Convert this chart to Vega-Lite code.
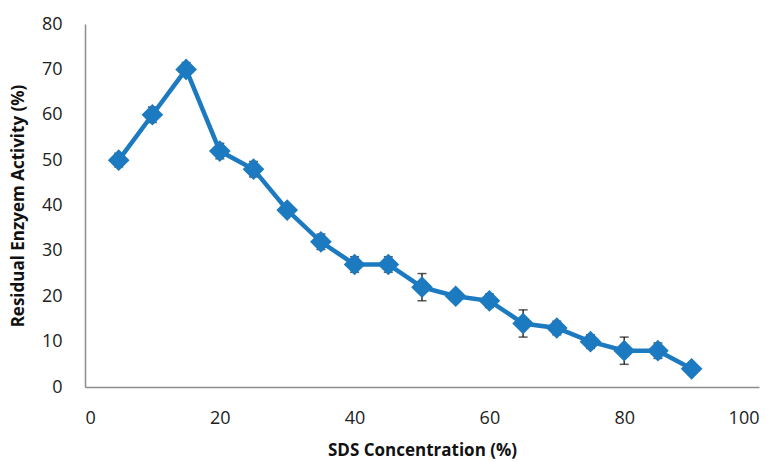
{
  "$schema": "https://vega.github.io/schema/vega-lite/v6.json",
  "autosize": "none",
  "width": 674,
  "height": 363,
  "padding": {"left": 85, "top": 24, "right": 18, "bottom": 75},
  "background": "white",
  "config": {
    "view": {"stroke": null},
    "font": "Open Sans",
    "axis": {
      "grid": false,
      "ticks": false,
      "domainColor": "#8c8c8c",
      "domainWidth": 1.5,
      "labelFont": "Open Sans",
      "labelFontSize": 18,
      "labelColor": "#222",
      "titleFont": "Open Sans",
      "titleFontSize": 17,
      "titleFontWeight": "bold",
      "titleColor": "#111"
    }
  },
  "data": {
    "values": [
      {"conc": 5, "activity": 50, "lo": 48.5, "hi": 51.5},
      {"conc": 10, "activity": 60, "lo": 58.3, "hi": 61.7},
      {"conc": 15, "activity": 70, "lo": 68.5, "hi": 71.5},
      {"conc": 20, "activity": 52, "lo": 50.3, "hi": 53.7},
      {"conc": 25, "activity": 48, "lo": 46.3, "hi": 49.7},
      {"conc": 30, "activity": 39, "lo": 39, "hi": 39},
      {"conc": 35, "activity": 32, "lo": 30.3, "hi": 33.7},
      {"conc": 40, "activity": 27, "lo": 25.3, "hi": 28.7},
      {"conc": 45, "activity": 27, "lo": 25.3, "hi": 28.7},
      {"conc": 50, "activity": 22, "lo": 19, "hi": 25},
      {"conc": 55, "activity": 20, "lo": 20, "hi": 20},
      {"conc": 60, "activity": 19, "lo": 17.5, "hi": 20.5},
      {"conc": 65, "activity": 14, "lo": 11, "hi": 17},
      {"conc": 70, "activity": 13, "lo": 11.5, "hi": 14.5},
      {"conc": 75, "activity": 10, "lo": 8.5, "hi": 11.5},
      {"conc": 80, "activity": 8, "lo": 5, "hi": 11},
      {"conc": 85, "activity": 8, "lo": 6.3, "hi": 9.7},
      {"conc": 90, "activity": 4, "lo": 4, "hi": 4}
    ]
  },
  "encoding": {
    "x": {
      "field": "conc",
      "type": "quantitative",
      "scale": {"domain": [0, 100], "nice": false},
      "axis": {"values": [0, 20, 40, 60, 80, 100], "title": "SDS Concentration (%)", "labelPadding": 22, "titlePadding": 15}
    }
  },
  "layer": [
    {
      "mark": {"type": "rule", "color": "#111", "strokeWidth": 1.3},
      "encoding": {
        "y": {"field": "lo", "type": "quantitative", "scale": {"domain": [0, 80], "nice": false}},
        "y2": {"field": "hi"}
      }
    },
    {
      "mark": {"type": "tick", "orient": "horizontal", "color": "#111", "size": 9, "thickness": 1.5},
      "encoding": {"y": {"field": "lo", "type": "quantitative"}}
    },
    {
      "mark": {"type": "tick", "orient": "horizontal", "color": "#111", "size": 9, "thickness": 1.5},
      "encoding": {"y": {"field": "hi", "type": "quantitative"}}
    },
    {
      "mark": {
        "type": "line",
        "color": "#1C7BC0",
        "strokeWidth": 4.5,
        "point": {"shape": "diamond", "size": 470, "filled": true, "color": "#1C7BC0", "opacity": 1}
      },
      "encoding": {
        "y": {
          "field": "activity",
          "type": "quantitative",
          "scale": {"domain": [0, 80], "nice": false},
          "axis": {"values": [0, 10, 20, 30, 40, 50, 60, 70, 80], "title": "Residual Enzyem Activity (%)", "labelPadding": 23, "titlePadding": 14}
        }
      }
    }
  ]
}
